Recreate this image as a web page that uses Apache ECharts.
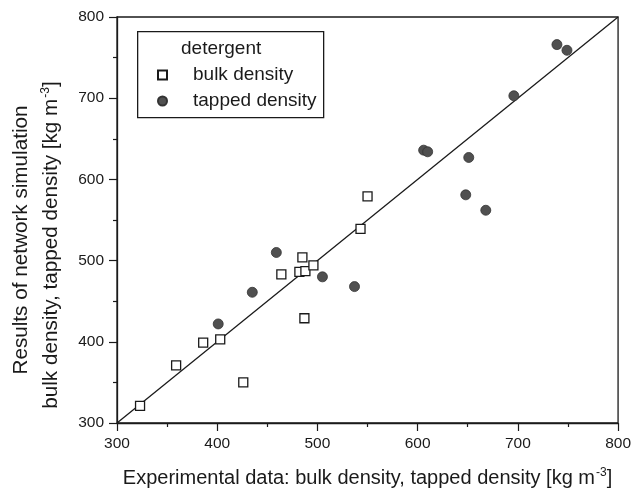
<!DOCTYPE html>
<html lang="en">
<head>
  <meta charset="UTF-8">
  <title>network simulation vs experimental density</title>
  <script src="https://cdn.jsdelivr.net/npm/echarts@6/dist/echarts.min.js"></script>
  <style>
    html, body { margin: 0; padding: 0; background: #fff; }
    #main { width: 634px; height: 493px; }
  </style>
</head>
<body>
<div id="main"></div>
<script>
  // detergent - bulk density (experimental, simulated)
  var bulkX = [323, 359, 386, 403, 426, 464, 482, 488, 485, 496, 487, 543, 550];
  var bulkY = [321, 371, 399, 403, 350, 483, 486, 487, 504, 494, 429, 539, 579];
  // detergent - tapped density
  var tapX = [401, 435, 459, 505, 537, 606, 610, 651, 648, 668, 696, 739, 749];
  var tapY = [422, 461, 510, 480, 468, 636, 634, 627, 581, 562, 703, 766, 759];
  // y = x reference line
  var lineX = [300, 800];
  var lineY = [300, 800];
  var axisMin = 300, axisMax = 800, axisStep = 100;

  function pairs(xs, ys) {
    return xs.map(function (x, i) { return [x, ys[i]]; });
  }

  var font = 'Liberation Sans, Arial, sans-serif';
  var ink = '#1a1a1a';

  var chart = echarts.init(document.getElementById('main'), null, { renderer: 'canvas' });

  var axisCommon = {
    type: 'value',
    min: axisMin,
    max: axisMax,
    interval: axisStep,
    axisLine: { show: true, lineStyle: { color: ink, width: 1.3 } },
    axisTick: { show: true, inside: false, length: 8, lineStyle: { color: ink, width: 1.2 } },
    minorTick: { show: true, splitNumber: 2, length: 4, lineStyle: { color: ink, width: 1.2 } },
    splitLine: { show: false },
    minorSplitLine: { show: false },
    axisLabel: { color: ink, fontSize: 15.5, fontFamily: font, margin: 13 }
  };

  var option = {
    backgroundColor: '#fff',
    animation: false,
    grid: {
      left: 117, right: 12, top: 17, bottom: 68,
      show: true, borderColor: ink, borderWidth: 1.3, backgroundColor: 'transparent'
    },
    xAxis: Object.assign({}, axisCommon, {
      name: 'Experimental data: bulk density, tapped density [kg m{sup|-3}]',
      nameLocation: 'middle',
      nameGap: 44,
      nameTextStyle: {
        color: ink, fontSize: 20, fontFamily: font,
        rich: { sup: { fontSize: 12, fontFamily: font, color: ink, verticalAlign: 'top', padding: [0, 0, 10, 1] } }
      }
    }),
    yAxis: Object.assign({}, axisCommon, {}),
    legend: {
      orient: 'vertical',
      left: 157,
      top: 65,
      padding: 0,
      itemWidth: 9,
      itemHeight: 9,
      itemGap: 6,
      textStyle: { color: ink, fontSize: 19, fontFamily: font, lineHeight: 20, padding: [0, 0, 0, 21] },
      data: ['bulk density', 'tapped density']
    },
    graphic: [
      {
        type: 'rect', left: 137, top: 31, z: 0,
        shape: { width: 186, height: 86 },
        style: { fill: '#fff', stroke: ink, lineWidth: 1.3 }
      },
      {
        type: 'text', left: 181, top: 39, z: 1,
        style: { text: 'detergent', fill: ink, fontSize: 19, fontFamily: font }
      },
      {
        type: 'text', x: 21, y: 240, rotation: Math.PI / 2,
        style: {
          text: 'Results of network simulation', fill: ink, fontSize: 20.7, fontFamily: font,
          align: 'center', verticalAlign: 'middle'
        }
      },
      {
        type: 'text', x: 51, y: 245, rotation: Math.PI / 2,
        style: {
          text: 'bulk density, tapped density [kg m{sup|-3}]', fill: ink, fontSize: 20.7, fontFamily: font,
          align: 'center', verticalAlign: 'middle',
          rich: { sup: { fontSize: 12, fontFamily: font, fill: ink, verticalAlign: 'top', padding: [0, 0, 10, 1] } }
        }
      }
    ],
    series: [
      {
        name: 'y=x',
        type: 'line',
        data: pairs(lineX, lineY),
        symbol: 'none',
        lineStyle: { color: ink, width: 1.3 },
        silent: true,
        z: 1
      },
      {
        name: 'bulk density',
        type: 'scatter',
        data: pairs(bulkX, bulkY),
        symbol: 'rect',
        symbolSize: 9,
        itemStyle: { color: '#fff', borderColor: ink, borderWidth: 1.3, opacity: 1 },
        z: 3
      },
      {
        name: 'tapped density',
        type: 'scatter',
        data: pairs(tapX, tapY),
        symbol: 'circle',
        symbolSize: 10,
        itemStyle: { color: '#505050', borderColor: '#333', borderWidth: 0.8, opacity: 1 },
        z: 3
      }
    ]
  };

  chart.setOption(option);
  window.addEventListener('resize', chart.resize);
</script>
</body>
</html>
